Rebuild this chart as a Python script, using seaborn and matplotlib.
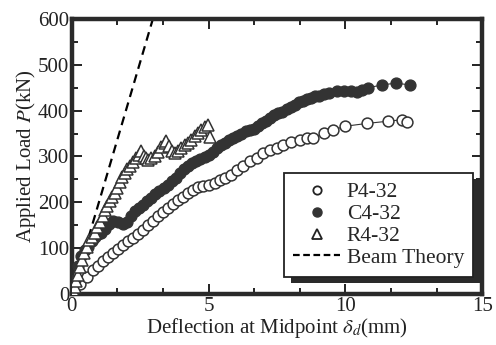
import numpy as np
import pandas as pd
import matplotlib
matplotlib.use("Agg")
import matplotlib.pyplot as plt
import seaborn as sns
from matplotlib.lines import Line2D
from matplotlib.patches import Shadow
from matplotlib.ticker import MultipleLocator

# ---- data ----
p4_x = [0, 0.3, 0.55, 0.77, 0.95, 1.13, 1.32, 1.5, 1.68, 1.87, 2.05, 2.23, 2.41, 2.6, 2.78,
        2.96, 3.14, 3.32, 3.51, 3.7, 3.88, 4.06, 4.24, 4.43, 4.61, 4.8, 5.0, 5.22, 5.4, 5.59,
        5.8, 6.03, 6.25, 6.51, 6.76, 7.0, 7.25, 7.49, 7.73, 8.0, 8.34, 8.6, 8.83, 9.2, 9.56,
        10.0, 10.78, 11.57, 12.06, 12.27]
p4_y = [0, 22, 38, 52, 62, 72, 81, 90, 98, 107, 115, 123, 131, 140, 150,
        159, 169, 178, 188, 196, 204, 212, 220, 227, 233, 236, 238, 243, 248, 252,
        260, 271, 279, 290, 297, 307, 314, 318, 325, 332, 337, 340, 340, 351, 358,
        366, 372, 377, 380, 375]

c4_x = [0, 0.1, 0.22, 0.35, 0.47, 0.59, 0.72, 0.85, 0.97, 1.07, 1.2, 1.35, 1.5, 1.68, 1.85,
        2.0, 2.15, 2.3, 2.45, 2.6, 2.75, 2.9, 3.05, 3.2, 3.35, 3.5, 3.65, 3.8, 3.95, 4.1,
        4.25, 4.4, 4.55, 4.7, 4.85, 5.0, 5.15, 5.3, 5.45, 5.6, 5.75, 5.9, 6.05, 6.2, 6.35,
        6.5, 6.65, 6.8, 6.95, 7.1, 7.25, 7.4, 7.55, 7.7, 7.85, 8.0, 8.15, 8.3, 8.45, 8.6,
        8.75, 8.9, 9.05, 9.2, 9.4, 9.68, 9.95, 10.2, 10.42, 10.6, 10.84, 11.33, 11.85, 12.37]
c4_y = [0, 30, 60, 82, 95, 103, 115, 124, 130, 134, 142, 152, 160, 156, 152,
        158, 170, 180, 188, 195, 202, 210, 217, 225, 231, 238, 246, 254, 263, 272,
        279, 285, 290, 295, 299, 303, 310, 318, 324, 330, 335, 340, 345, 350, 355,
        358, 360, 366, 372, 378, 384, 390, 394, 398, 403, 408, 413, 418, 422, 425,
        428, 431, 433, 436, 439, 442, 443, 442, 441, 445, 450, 456, 460, 456]

r4_x = [0, 0.05, 0.1, 0.15, 0.22, 0.3, 0.38, 0.46, 0.55, 0.64, 0.73, 0.83, 0.93, 1.03,
        1.12, 1.2, 1.29, 1.38, 1.47, 1.56, 1.65, 1.75, 1.84, 1.93, 2.02, 2.12, 2.22, 2.33,
        2.45, 2.54, 2.62, 2.7, 2.78, 2.9, 3.03, 3.15, 3.27, 3.39, 3.45, 3.55, 3.65, 3.76,
        3.88, 4.0, 4.12, 4.24, 4.37, 4.49, 4.61, 4.73, 4.85, 4.98, 5.05]
r4_y = [0, 8, 16, 28, 42, 58, 73, 89, 103, 117, 125, 132, 145, 158,
        170, 183, 192, 202, 211, 220, 232, 245, 255, 263, 272, 280, 288, 296,
        304, 311, 302, 296, 292, 296, 300, 310, 320, 329, 333, 322, 312, 307,
        312, 318, 324, 330, 336, 344, 351, 358, 364, 369, 343]

beam_x = [0, 2.96]
beam_y = [0, 600]

labels = ["P4-32", "C4-32", "R4-32", "Beam Theory"]

# ---- style ----
sns.set_theme(style="ticks")
plt.rcParams["font.family"] = ["Liberation Serif", "DejaVu Serif"]
plt.rcParams["mathtext.fontset"] = "stix"

fig = plt.figure(figsize=(4.96, 3.45), dpi=100)
ax = fig.add_axes([0.145, 0.148, 0.827, 0.797])

df_p4 = pd.DataFrame({"x": p4_x, "y": p4_y})
df_c4 = pd.DataFrame({"x": c4_x, "y": c4_y})
df_r4 = pd.DataFrame({"x": r4_x, "y": r4_y})
df_b = pd.DataFrame({"x": beam_x, "y": beam_y})

sns.lineplot(data=df_b, x="x", y="y", ax=ax, color="black", lw=1.6,
             linestyle=(0, (4, 2.6)), sort=False, estimator=None, zorder=2)
sns.lineplot(data=df_p4, x="x", y="y", ax=ax, color="#333333", lw=0.8, sort=False,
             estimator=None, marker="o", markersize=7.8, markerfacecolor="white",
             markeredgecolor="#333333", markeredgewidth=1.1, zorder=3)
sns.lineplot(data=df_c4, x="x", y="y", ax=ax, color="#333333", lw=0.8, sort=False,
             estimator=None, marker="o", markersize=7.8, markerfacecolor="#333333",
             markeredgecolor="#333333", markeredgewidth=1.0, zorder=3)
sns.lineplot(data=df_r4, x="x", y="y", ax=ax, color="#333333", lw=0.8, sort=False,
             estimator=None, marker="^", markersize=8.5, markerfacecolor="white",
             markeredgecolor="#333333", markeredgewidth=1.1, zorder=4)

ax.set_xlim(0, 15)
ax.set_ylim(0, 600)
ax.xaxis.set_major_locator(MultipleLocator(5))
ax.xaxis.set_minor_locator(MultipleLocator(5 / 3))
ax.yaxis.set_major_locator(MultipleLocator(100))
ax.yaxis.set_minor_locator(MultipleLocator(50))
ax.tick_params(which="both", direction="in", top=True, right=True, colors="#222222",
               labelsize=15, width=1.4)
ax.tick_params(which="major", length=7, pad=2)
ax.tick_params(which="minor", length=4)
for s in ax.spines.values():
    s.set_linewidth(3.2)
    s.set_color("#2a2a2a")

ax.set_xlabel(r"Deflection at Midpoint $\delta_d$(mm)", fontsize=15, color="#222222", labelpad=0)
ax.set_ylabel(r"Applied Load $P$(kN)", fontsize=15, color="#222222", labelpad=0)

handles = [
    Line2D([], [], ls="none", marker="o", ms=6, mfc="white", mec="#222222", mew=1.3),
    Line2D([], [], ls="none", marker="o", ms=6.5, mfc="#333333", mec="#333333"),
    Line2D([], [], ls="none", marker="^", ms=7, mfc="white", mec="#222222", mew=1.3),
    Line2D([], [], color="black", lw=1.6, ls=(0, (3, 1.6))),
]
leg = ax.legend(handles, labels, loc="lower right", bbox_to_anchor=(0.978, 0.062),
                borderaxespad=0, frameon=True, fancybox=False, fontsize=15.5,
                handlelength=2.2, handletextpad=0.3, labelspacing=0.08,
                borderpad=0.42, framealpha=1)
leg.get_frame().set_edgecolor("#222222")
leg.get_frame().set_facecolor("white")
leg.get_frame().set_linewidth(1.3)
leg.set_zorder(10)

fig.canvas.draw()
sh = Shadow(leg.legendPatch, 7 * 0.72, -6 * 0.72, facecolor="#2a2a2a",
            edgecolor="none", alpha=1)
sh.set_zorder(9)
sh.set_clip_on(False)
ax.add_artist(sh)

fig.savefig("out.png", dpi=100, facecolor="white")
